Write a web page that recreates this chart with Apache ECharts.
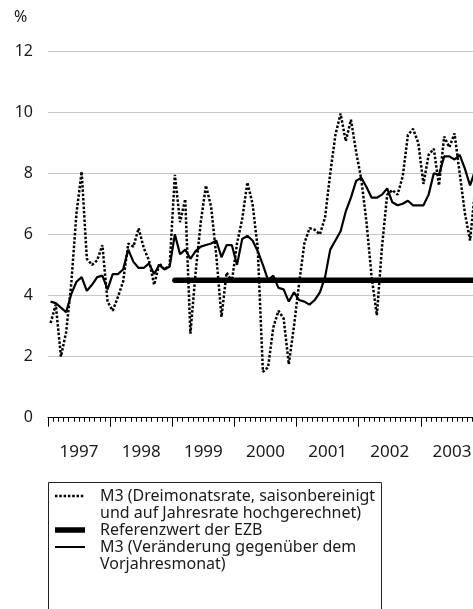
<!DOCTYPE html>
<html>
<head>
<meta charset="utf-8">
<script src="https://cdn.jsdelivr.net/npm/echarts@6/dist/echarts.min.js"></script>
<style>
  html, body { margin: 0; padding: 0; background: #fff; }
  #chart { width: 473px; height: 609px; }
</style>
</head>
<body>
<div id="chart"></div>
<script>
const years = ['1997', '1998', '1999', '2000', '2001', '2002', '2003']
const months = []
years.forEach(y => {
  for (let m = 1; m <= 12; m++) months.push(y + '-' + String(m).padStart(2, '0'))
})

const yTicks = [0, 2, 4, 6, 8, 10, 12]

// M3, Dreimonatsrate (saisonbereinigt, auf Jahresrate hochgerechnet)
const m3ThreeMonth = [
  3.1, 3.7, 2.0, 2.8, 4.4, 6.7, 8.05, 5.2, 5.0, 5.15, 5.65, 3.8,     // 1997
  3.5, 3.95, 4.45, 5.7, 5.6, 6.2, 5.55, 5.15, 4.35, 5.05, 4.85, 5.0, // 1998
  7.95, 6.4, 7.15, 2.75, 4.75, 6.4, 7.6, 6.9, 5.3, 3.3, 4.75, 4.45,  // 1999
  5.7, 6.5, 7.7, 7.0, 5.55, 1.5, 1.65, 2.95, 3.5, 3.25, 1.75, 3.0,   // 2000
  4.4, 5.7, 6.2, 6.15, 6.0, 6.55, 8.0, 9.25, 9.95, 9.05, 9.75, 8.7,  // 2001
  7.8, 6.4, 4.6, 3.35, 5.6, 7.3, 7.45, 7.3, 7.9, 9.25, 9.45, 9.0,    // 2002
  7.65, 8.6, 8.8, 7.6, 9.2, 8.85, 9.3, 8.0, 6.7, 5.8, 7.5            // 2003
]

// M3, Veränderung gegenüber dem Vorjahresmonat
const m3Yoy = [
  3.8, 3.75, 3.6, 3.45, 4.05, 4.45, 4.6, 4.15, 4.35, 4.6, 4.65, 4.2,  // 1997
  4.7, 4.7, 4.85, 5.5, 5.1, 4.9, 4.9, 5.05, 4.7, 5.0, 4.85, 4.95,     // 1998
  6.0, 5.35, 5.5, 5.2, 5.45, 5.6, 5.65, 5.7, 5.8, 5.25, 5.65, 5.65,   // 1999
  5.0, 5.85, 5.95, 5.8, 5.45, 5.0, 4.5, 4.65, 4.25, 4.2, 3.8, 4.1,    // 2000
  3.85, 3.8, 3.7, 3.85, 4.1, 4.6, 5.5, 5.8, 6.1, 6.75, 7.2, 7.75,     // 2001
  7.85, 7.55, 7.2, 7.2, 7.3, 7.5, 7.05, 6.95, 7.0, 7.1, 6.95, 6.95,   // 2002
  6.95, 7.3, 8.0, 7.95, 8.55, 8.55, 8.45, 8.6, 8.15, 7.6, 8.1         // 2003
]

// Referenzwert der EZB
const referenceValue = 4.5
const referencePeriod = ['1999-01', '2003-12']

const legendNames = [
  ['M3 (Dreimonatsrate, saisonbereinigt', 'und auf Jahresrate hochgerechnet)'],
  ['Referenzwert der EZB'],
  ['M3 (Veränderung gegenüber dem', 'Vorjahresmonat)'],
]

const FONT = '"Noto Sans", "Open Sans", sans-serif'
const TEXT = '#1a1a1a'
const dotted = [2.5, 1.8]
// the plot runs a little past the right edge of the picture, as in the original
const plot = { left: 48, top: 51, right: -10, height: 366.7, outerBoundsMode: 'none' }

function legendGraphic() {
  const items = [
    { y: 496, width: 2.5, dash: dotted },
    { y: 530, width: 5.5, dash: null },
    { y: 547, width: 2, dash: null },
  ]
  const els = [{
    type: 'rect',
    shape: { x: 48.5, y: 482.5, width: 333, height: 200 },
    style: { fill: 'none', stroke: '#222', lineWidth: 1 },
  }]
  items.forEach((it, k) => {
    els.push({
      type: 'line',
      shape: { x1: 55, y1: it.y, x2: 85, y2: it.y },
      style: { stroke: '#000', lineWidth: it.width, lineDash: it.dash },
    })
    legendNames[k].forEach((line, j) => {
      els.push({
        type: 'text',
        x: 100,
        y: it.y + j * 17,
        style: { text: line, font: '16px ' + FONT, fill: TEXT, verticalAlign: 'middle' },
      })
    })
  })
  els.push({
    type: 'text', x: 14, y: 17,
    style: { text: '%', font: '16px ' + FONT, fill: TEXT, verticalAlign: 'middle' },
  })
  return els
}

const chart = echarts.init(document.getElementById('chart'))

chart.setOption({
  animation: false,
  backgroundColor: '#fff',
  // two identical grids: monthly ticks + data in the first, year ticks + labels in the second
  grid: [Object.assign({}, plot), Object.assign({}, plot)],
  xAxis: [
    {
      type: 'category',
      gridIndex: 0,
      data: months,
      boundaryGap: true,
      axisLine: { show: true, lineStyle: { color: '#000', width: 1 } },
      axisTick: { show: true, interval: 0, length: 4, lineStyle: { color: '#000', width: 1 } },
      axisLabel: { show: false },
      splitLine: { show: false },
    },
    {
      type: 'category',
      gridIndex: 1,
      data: years,
      boundaryGap: true,
      axisLine: { show: false },
      axisTick: { show: true, interval: 0, length: 9, lineStyle: { color: '#000', width: 1 } },
      axisLabel: { interval: 0, margin: 26, fontSize: 17, fontFamily: FONT, color: TEXT },
      splitLine: { show: false },
    },
  ],
  yAxis: [
    {
      type: 'value',
      gridIndex: 0,
      min: yTicks[0],
      max: yTicks[yTicks.length - 1],
      interval: 2,
      axisLine: { show: false },
      axisTick: { show: false },
      axisLabel: { margin: 15, fontSize: 16, fontFamily: FONT, color: TEXT },
      splitLine: { lineStyle: { color: '#c8c8c8', width: 1 } },
    },
    {
      type: 'value',
      gridIndex: 1,
      min: yTicks[0],
      max: yTicks[yTicks.length - 1],
      show: false,
    },
  ],
  series: [
    {
      name: legendNames[0].join(' '),
      type: 'line',
      data: m3ThreeMonth,
      symbol: 'none',
      lineStyle: { color: '#000', width: 2.5, type: dotted, cap: 'butt' },
      z: 2,
    },
    {
      name: legendNames[2].join(' '),
      type: 'line',
      data: m3Yoy,
      symbol: 'none',
      lineStyle: { color: '#000', width: 2.2 },
      z: 3,
    },
    {
      name: legendNames[1][0],
      type: 'line',
      data: referencePeriod.map(m => [m, referenceValue]),
      symbol: 'none',
      lineStyle: { color: '#000', width: 5.5, cap: 'round' },
      z: 4,
    },
  ],
  graphic: legendGraphic(),
})
</script>
</body>
</html>
